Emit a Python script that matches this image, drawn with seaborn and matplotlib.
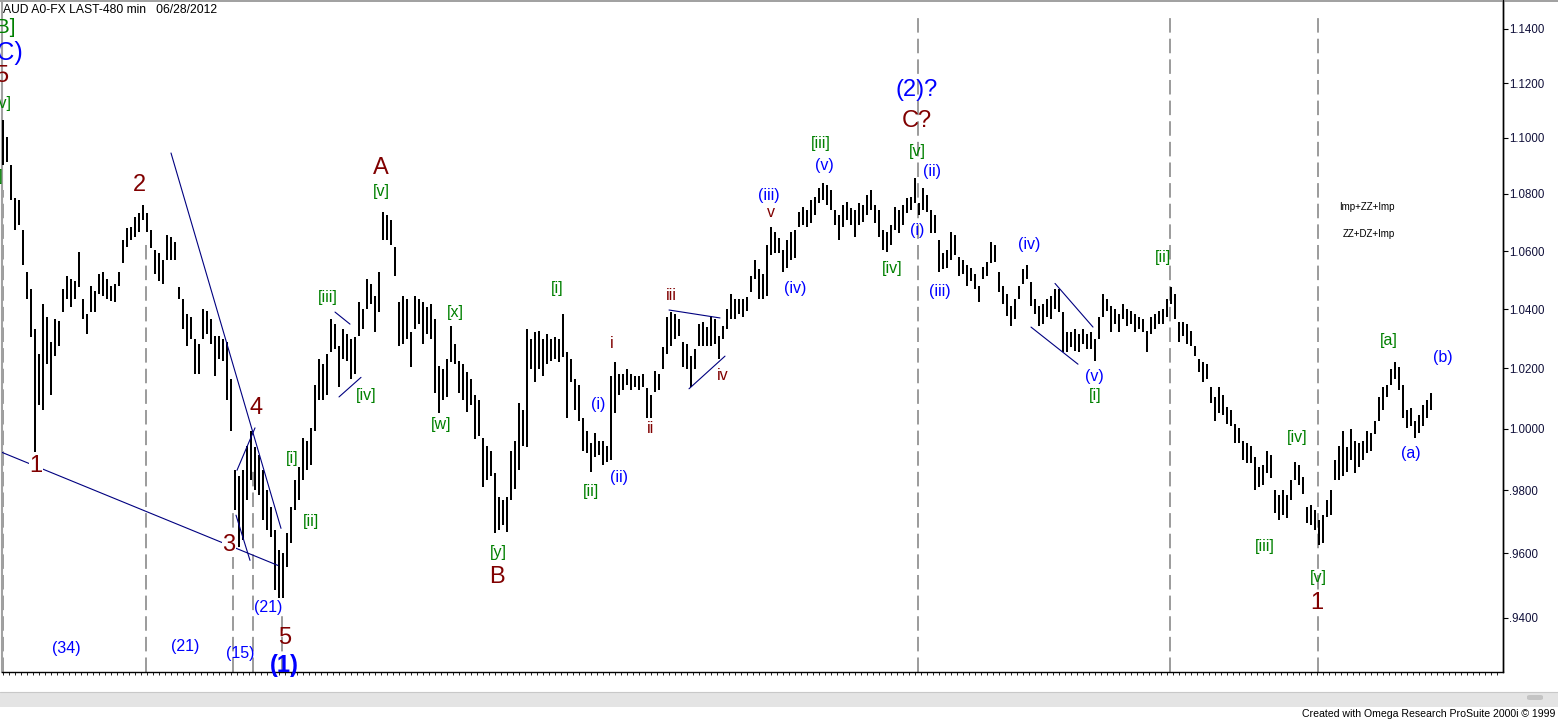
import numpy as np
import pandas as pd
import matplotlib
matplotlib.use("Agg")
import matplotlib.pyplot as plt
from matplotlib.ticker import FixedLocator, FixedFormatter, NullLocator
from matplotlib.patches import Rectangle, FancyBboxPatch
from matplotlib.lines import Line2D
import seaborn as sns

# ---------------- data (AUD 480-min bars, high / low) ----------------
bar_high = [
    1.1065, 1.1004, 1.0903, 1.0786, 1.0779, 1.0674, 1.0526, 1.0468, 1.0332, 1.0247,
    1.0417, 1.0373, 1.0288, 1.0366, 1.0359, 1.0468, 1.0512, 1.0502, 1.0495, 1.0597,
    1.0434, 1.0383, 1.0478, 1.0461, 1.0519, 1.0526, 1.0502, 1.0478, 1.0485, 1.0526,
    1.0639, 1.0681, 1.0684, 1.0719, 1.0733, 1.0761, 1.0733, 1.0674, 1.0604, 1.0593,
    1.0569, 1.0656, 1.0649, 1.0632, 1.0475, 1.0434, 1.0383, 1.0373, 1.0298, 1.0281,
    1.0400, 1.0393, 1.0366, 1.0308, 1.0308, 1.0298, 1.0288, 1.0163, 0.9865, 0.9848,
    0.9865, 0.9945, 0.9994, 0.9939, 0.9913, 0.9865, 0.9800, 0.9746, 0.9673, 0.9610,
    0.9600, 0.9663, 0.9746, 0.9832, 0.9875, 0.9971, 0.9961, 1.0003, 1.0146, 1.0231,
    1.0214, 1.0247, 1.0366, 1.0349, 1.0274, 1.0332, 1.0315, 1.0298, 1.0305, 1.0424,
    1.0400, 1.0502, 1.0485, 1.0444, 1.0529, 1.0737, 1.0726, 1.0709, 1.0614, 1.0424,
    1.0444, 1.0434, 1.0322, 1.0444, 1.0434, 1.0424, 1.0407, 1.0417, 1.0366, 1.0207,
    1.0197, 1.0231, 1.0342, 1.0281, 1.0224, 1.0214, 1.0187, 1.0163, 1.0112, 1.0095,
    0.9971, 0.9945, 0.9929, 0.9855, 0.9778, 0.9768, 0.9778, 0.9929, 0.9961, 1.0085,
    1.0061, 1.0332, 1.0298, 1.0322, 1.0325, 1.0298, 1.0315, 1.0298, 1.0305, 1.0298,
    1.0383, 1.0254, 1.0231, 1.0163, 1.0146, 1.0037, 0.9994, 0.9952, 0.9987, 0.9961,
    0.9961, 0.9945, 1.0173, 1.0221, 1.0180, 1.0180, 1.0197, 1.0180, 1.0173, 1.0173,
    1.0180, 1.0136, 1.0112, 1.0190, 1.0180, 1.0271, 1.0373, 1.0390, 1.0383, 1.0366,
    1.0288, 1.0281, 1.0241, 1.0264, 1.0349, 1.0356, 1.0339, 1.0376, 1.0366, 1.0308,
    1.0342, 1.0400, 1.0451, 1.0434, 1.0434, 1.0434, 1.0441, 1.0512, 1.0569, 1.0536,
    1.0519, 1.0621, 1.0684, 1.0667, 1.0646, 1.0604, 1.0639, 1.0667, 1.0674, 1.0737,
    1.0754, 1.0744, 1.0779, 1.0789, 1.0821, 1.0839, 1.0832, 1.0814, 1.0744, 1.0726,
    1.0761, 1.0772, 1.0751, 1.0744, 1.0768, 1.0761, 1.0796, 1.0814, 1.0761, 1.0744,
    1.0674, 1.0667, 1.0691, 1.0754, 1.0744, 1.0761, 1.0786, 1.0789, 1.0857, 1.0768,
    1.0821, 1.0796, 1.0744, 1.0726, 1.0639, 1.0593, 1.0604, 1.0667, 1.0656, 1.0580,
    1.0569, 1.0553, 1.0542, 1.0519, 1.0478, 1.0546, 1.0563, 1.0632, 1.0621, 1.0526,
    1.0478, 1.0451, 1.0410, 1.0434, 1.0478, 1.0536, 1.0553, 1.0492, 1.0434, 1.0410,
    1.0417, 1.0434, 1.0444, 1.0468, 1.0468, 1.0390, 1.0322, 1.0322, 1.0332, 1.0315,
    1.0332, 1.0315, 1.0322, 1.0298, 1.0373, 1.0451, 1.0434, 1.0410, 1.0400, 1.0383,
    1.0417, 1.0400, 1.0393, 1.0383, 1.0373, 1.0366, 1.0325, 1.0373, 1.0383, 1.0393,
    1.0400, 1.0434, 1.0475, 1.0451, 1.0356, 1.0356, 1.0349, 1.0325, 1.0274, 1.0231,
    1.0221, 1.0214, 1.0139, 1.0105, 1.0139, 1.0112, 1.0071, 1.0061, 1.0017, 1.0003,
    0.9961, 0.9955, 0.9945, 0.9907, 0.9875, 0.9881, 0.9929, 0.9913, 0.9800, 0.9784,
    0.9800, 0.9784, 0.9832, 0.9891, 0.9881, 0.9842, 0.9746, 0.9752, 0.9737, 0.9705,
    0.9721, 0.9768, 0.9800, 0.9897, 0.9945, 0.9994, 0.9939, 1.0000, 0.9961, 0.9952,
    0.9961, 0.9994, 0.9987, 1.0027, 1.0105, 1.0139, 1.0146, 1.0197, 1.0221, 1.0204,
    1.0146, 1.0061, 1.0068, 1.0027, 1.0044, 1.0078, 1.0095, 1.0119,
]
bar_low = [
    1.0903, 1.0914, 1.0779, 1.0674, 1.0691, 1.0553, 1.0434, 1.0305, 0.9923, 1.0078,
    1.0061, 1.0214, 1.0112, 1.0241, 1.0274, 1.0390, 1.0434, 1.0407, 1.0434, 1.0475,
    1.0366, 1.0315, 1.0390, 1.0390, 1.0451, 1.0444, 1.0434, 1.0427, 1.0424, 1.0478,
    1.0559, 1.0614, 1.0639, 1.0649, 1.0667, 1.0709, 1.0667, 1.0611, 1.0519, 1.0495,
    1.0485, 1.0569, 1.0569, 1.0569, 1.0434, 1.0332, 1.0274, 1.0298, 1.0180, 1.0180,
    1.0298, 1.0315, 1.0281, 1.0173, 1.0231, 1.0224, 1.0095, 0.9994, 0.9737, 0.9620,
    0.9641, 0.9768, 0.9832, 0.9800, 0.9784, 0.9705, 0.9673, 0.9651, 0.9484, 0.9462,
    0.9462, 0.9556, 0.9632, 0.9737, 0.9768, 0.9832, 0.9865, 0.9881, 0.9994, 1.0095,
    1.0095, 1.0112, 1.0254, 1.0264, 1.0139, 1.0231, 1.0224, 1.0163, 1.0180, 1.0308,
    1.0332, 1.0400, 1.0417, 1.0322, 1.0390, 1.0639, 1.0639, 1.0621, 1.0512, 1.0274,
    1.0281, 1.0298, 1.0204, 1.0332, 1.0349, 1.0281, 1.0315, 1.0298, 1.0119, 1.0051,
    1.0095, 1.0105, 1.0221, 1.0214, 1.0119, 1.0095, 1.0054, 1.0078, 0.9968, 0.9977,
    0.9810, 0.9832, 0.9848, 0.9663, 0.9673, 0.9689, 0.9667, 0.9768, 0.9806, 0.9865,
    0.9945, 0.9939, 1.0197, 1.0153, 1.0197, 1.0173, 1.0214, 1.0224, 1.0231, 1.0221,
    1.0237, 1.0037, 1.0153, 1.0061, 1.0027, 0.9929, 0.9920, 0.9858, 0.9907, 0.9913,
    0.9881, 0.9891, 0.9897, 1.0051, 1.0112, 1.0129, 1.0146, 1.0129, 1.0139, 1.0129,
    1.0139, 1.0037, 1.0037, 1.0122, 1.0129, 1.0197, 1.0247, 1.0274, 1.0298, 1.0308,
    1.0204, 1.0197, 1.0139, 1.0197, 1.0274, 1.0274, 1.0274, 1.0274, 1.0281, 1.0231,
    1.0298, 1.0332, 1.0366, 1.0366, 1.0383, 1.0373, 1.0393, 1.0458, 1.0502, 1.0434,
    1.0434, 1.0444, 1.0586, 1.0593, 1.0593, 1.0529, 1.0542, 1.0569, 1.0576, 1.0684,
    1.0691, 1.0684, 1.0698, 1.0726, 1.0768, 1.0779, 1.0761, 1.0744, 1.0691, 1.0639,
    1.0684, 1.0709, 1.0691, 1.0649, 1.0691, 1.0702, 1.0726, 1.0744, 1.0698, 1.0649,
    1.0604, 1.0597, 1.0621, 1.0674, 1.0663, 1.0691, 1.0733, 1.0744, 1.0768, 1.0726,
    1.0744, 1.0737, 1.0663, 1.0663, 1.0526, 1.0536, 1.0542, 1.0569, 1.0586, 1.0512,
    1.0519, 1.0478, 1.0495, 1.0468, 1.0424, 1.0502, 1.0512, 1.0559, 1.0563, 1.0458,
    1.0417, 1.0376, 1.0342, 1.0366, 1.0434, 1.0485, 1.0502, 1.0410, 1.0383, 1.0342,
    1.0349, 1.0373, 1.0366, 1.0400, 1.0390, 1.0254, 1.0254, 1.0271, 1.0258, 1.0254,
    1.0281, 1.0264, 1.0264, 1.0224, 1.0298, 1.0373, 1.0393, 1.0322, 1.0349, 1.0322,
    1.0366, 1.0342, 1.0349, 1.0322, 1.0332, 1.0322, 1.0254, 1.0315, 1.0332, 1.0349,
    1.0349, 1.0373, 1.0417, 1.0366, 1.0288, 1.0308, 1.0281, 1.0274, 1.0241, 1.0187,
    1.0153, 1.0163, 1.0085, 1.0027, 1.0051, 1.0044, 1.0017, 1.0010, 0.9952, 0.9952,
    0.9897, 0.9887, 0.9887, 0.9800, 0.9810, 0.9816, 0.9855, 0.9839, 0.9727, 0.9705,
    0.9721, 0.9711, 0.9768, 0.9832, 0.9816, 0.9790, 0.9695, 0.9689, 0.9673, 0.9626,
    0.9632, 0.9714, 0.9721, 0.9832, 0.9832, 0.9848, 0.9858, 0.9897, 0.9855, 0.9875,
    0.9897, 0.9920, 0.9929, 0.9984, 1.0027, 1.0061, 1.0105, 1.0146, 1.0163, 1.0129,
    1.0037, 1.0003, 1.0010, 0.9971, 0.9987, 1.0010, 1.0034, 1.0061,
]

tick_prices = [1.14, 1.12, 1.10, 1.08, 1.06, 1.04, 1.02, 1.00, 0.98, 0.96, 0.94]
tick_labels = ["1.1400", "1.1200", "1.1000", "1.0800", "1.0600", "1.0400",
               "1.0200", "1.0000", ".9800", ".9600", ".9400"]

# Elliott-wave labels: text, colour key, bar position, price
wave_text = ["[B]", "(C)", "5", "[v]", "[iv]",
             "1", "2", "3", "4", "5", "(1)",
             "(34)", "(21)", "(15)", "(21)",
             "[i]", "[ii]", "[iii]", "[iv]", "A", "[v]",
             "[x]", "[w]", "[y]", "B",
             "[i]", "[ii]", "(i)", "(ii)", "i", "ii", "iii", "iv", "v",
             "(iii)", "(iv)", "[iii]", "(v)", "[iv]",
             "(2)?", "C?", "[v]", "(ii)", "(i)", "(iii)", "(iv)", "(v)", "[i]", "[ii]",
             "[iii]", "[iv]", "[v]", "1", "[a]", "(a)", "(b)"]
wave_color = ["g", "b", "r", "g", "g",
              "r", "r", "r", "r", "r", "b",
              "b", "b", "b", "b",
              "g", "g", "g", "g", "r", "g",
              "g", "g", "g", "r",
              "g", "g", "b", "b", "r", "r", "r", "r", "r",
              "b", "b", "g", "b", "g",
              "b", "r", "g", "b", "b", "b", "b", "b", "g", "g",
              "g", "g", "g", "r", "g", "b", "b"]
wave_bar = [0.0, 0.75, -0.25, 0.0, -2.5,
            8.25, 34.0, 56.5, 63.25, 70.5, 70.25,
            15.75, 45.5, 59.25, 66.25,
            72.25, 77.0, 81.25, 90.75, 94.5, 94.5,
            113.0, 109.5, 123.75, 123.5,
            138.5, 147.0, 148.75, 154.0, 152.25, 161.75, 167.0, 180.0, 192.0,
            191.5, 198.0, 204.5, 205.25, 222.25,
            228.5, 228.5, 228.5, 232.25, 228.5, 234.25, 256.5, 272.75, 273.0, 290.0,
            315.5, 323.5, 328.75, 328.5, 346.5, 352.0, 360.0]
wave_price = [1.1407, 1.1311, 1.1226, 1.1124, 1.0861,
              0.9878, 1.0832, 0.9626, 1.0068, 0.9338, 0.9254,
              0.9304, 0.9310, 0.9291, 0.9431,
              0.9903, 0.9702, 1.0441, 1.0109, 1.0893, 1.0807,
              1.0390, 1.0014, 0.9603, 0.9525,
              1.0471, 0.9797, 1.0081, 0.9842, 1.0285, 1.0000, 1.0448, 1.0177, 1.0733,
              1.0796, 1.0471, 1.0979, 1.0900, 1.0539,
              1.1175, 1.1062, 1.0950, 1.0879, 1.0670, 1.0461, 1.0621, 1.0173, 1.0109, 1.0576,
              0.9622, 0.9971, 0.9525, 0.9444, 1.0295, 0.9920, 1.0237]

note_text = ["Imp+ZZ+Imp", "ZZ+DZ+Imp"]
note_bar = [341.0, 341.5]
note_price = [1.0754, 1.0660]

# trend lines (bar0, price0, bar1, price1)
trend_lines = [
    (-0.25, 0.9923, 68.75, 0.9562),
    (42.0, 1.0946, 69.5, 0.9679),
    (58.5, 0.9865, 63.0, 1.0003),
    (58.25, 0.9721, 61.75, 0.9578),
    (83.0, 1.0390, 86.75, 1.0349),
    (84.0, 1.0105, 89.5, 1.0170),
    (166.5, 1.0397, 179.25, 1.0370),
    (171.5, 1.0132, 180.5, 1.0241),
    (263.0, 1.0488, 272.5, 1.0339),
    (257.0, 1.0339, 268.75, 1.0214),
]

# time markers (dashed verticals): bar position, top price
marker_bar = [0.0, 35.75, 57.5, 62.5, 69.75, 228.75, 291.75, 328.75]
marker_top = [1.0814, 1.0639, 0.9737, 0.9865, 0.9416, 1.1452, 1.1452, 1.1452]

# ---------------- styling ----------------
sns.set_style("white")
plt.rcParams["font.family"] = ["Liberation Sans", "DejaVu Sans"]

W, H = 1558, 721
fig = plt.figure(figsize=(W / 100, H / 100), dpi=100)
fig.patch.set_facecolor("white")
ax = fig.add_axes([2 / W, 1 - 672 / H, 1501 / W, 670 / H])
ax.set_facecolor("white")

YMIN, YMAX = 0.92339, 1.15013
ax.set_yscale("log")

colors = {"r": "#800000", "g": "#008000", "b": "#0000ff", "k": "black"}

# bars via seaborn
n = len(bar_high)
df = pd.DataFrame({
    "bar": list(range(n)) * 2,
    "price": bar_high + bar_low,
})
sns.lineplot(data=df, x="bar", y="price", units="bar", estimator=None,
             sort=False, color="black", linewidth=1.3, legend=False, ax=ax,
             antialiased=False, solid_capstyle="butt", zorder=3)

# dashed time markers
for xb, top in zip(marker_bar, marker_top):
    ax.plot([xb, xb], [YMIN, top], color="#808080", linewidth=1.1,
            linestyle=(0, (9.5, 4.0)), zorder=1)

# trend lines
for (x0, p0, x1, p1) in trend_lines:
    ax.plot([x0, x1], [p0, p1], color="#000080", linewidth=0.8, zorder=4)

# wave labels
for t, c, xb, p in zip(wave_text, wave_color, wave_bar, wave_price):
    big = t in ("1", "2", "3", "4", "5", "A", "B", "C?", "(2)?", "(1)")
    size = 17 if big else 11.5
    if t == "(C)":
        size = 18
    if t == "[B]":
        size = 15
    kw = {}
    if t in ("1", "3"):
        kw["bbox"] = dict(facecolor="white", edgecolor="none", pad=0.5)
    ax.text(xb, p, t, color=colors[c], fontsize=size, ha="center", va="center",
            fontweight="bold" if t == "(1)" else "normal", zorder=6, **kw)

for t, xb, p in zip(note_text, note_bar, note_price):
    ax.text(xb, p, t, color="black", fontsize=7, ha="center", va="center", zorder=6)

ax.set_xlim(-0.25, 375)
ax.set_ylim(YMIN, YMAX)
ax.set_xlabel("")
ax.set_ylabel("")

# y axis on the right
ax.yaxis.set_major_locator(FixedLocator(tick_prices))
ax.yaxis.set_major_formatter(FixedFormatter(tick_labels))
ax.yaxis.set_minor_locator(NullLocator())
ax.yaxis.tick_right()
ax.tick_params(axis="y", which="major", direction="out", length=3.6, width=0.8,
               pad=1, labelsize=8.3, colors="black", labelcolor="#10103a",
               left=False, right=True)

# x axis small ticks
ax.set_xticks(np.arange(0, 375, 1.5))
ax.set_xticklabels([])
ax.xaxis.set_minor_locator(NullLocator())
ax.tick_params(axis="x", which="major", direction="out", length=2.5, width=0.6,
               colors="black", bottom=True)

ax.spines["top"].set_visible(False)
ax.spines["left"].set_color("#a0a0a0")
ax.spines["left"].set_linewidth(1.5)
ax.spines["right"].set_color("black")
ax.spines["right"].set_linewidth(1.0)
ax.spines["bottom"].set_color("black")
ax.spines["bottom"].set_linewidth(1.0)

# figure chrome
fig.add_artist(Line2D([0, 1], [1 - 0.7 / H] * 2, color="#a0a0a0", linewidth=1.4,
                      transform=fig.transFigure))
fig.add_artist(Line2D([1503 / W, 1503 / W], [1 - 672 / H, 1.0], color="black",
                      linewidth=1.0, transform=fig.transFigure))
fig.add_artist(Rectangle((0, 1 - 707 / H), 1, 15 / H, transform=fig.transFigure,
                         facecolor="#e4e4e4", edgecolor="none"))
fig.add_artist(Line2D([0, 1], [1 - 692 / H] * 2, color="#c8c8c8", linewidth=0.8,
                      transform=fig.transFigure))
fig.add_artist(FancyBboxPatch((1527 / W, 1 - 700 / H), 16 / W, 5 / H,
                              boxstyle="round,pad=0.0,rounding_size=0.002",
                              transform=fig.transFigure,
                              facecolor="#c4c4c4", edgecolor="none"))

fig.text(3 / W, 1 - 10 / H, "AUD A0-FX LAST-480 min   06/28/2012", fontsize=8.7,
         color="black", ha="left", va="center")
fig.text(1555 / W, 1 - 714 / H, "Created with Omega Research ProSuite 2000i \u00a9 1999",
         fontsize=7.6, color="black", ha="right", va="center")

fig.savefig("out.png", dpi=100, facecolor="white")
